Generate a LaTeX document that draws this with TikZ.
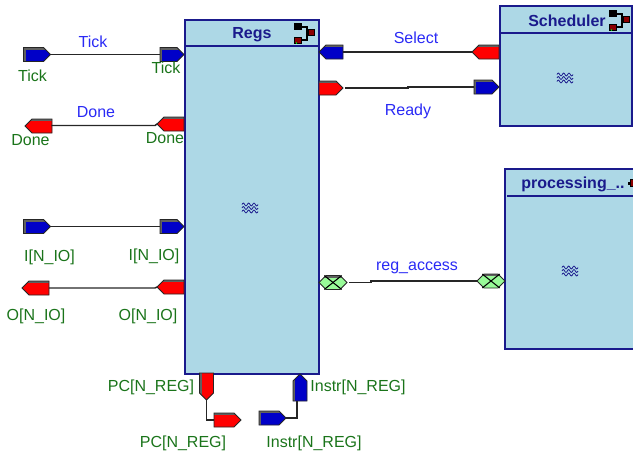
\documentclass[tikz,border=0pt]{standalone}
\usepackage{fontspec}
\setmainfont{Liberation Sans}
\usetikzlibrary{shapes.symbols}
\definecolor{boxfill}{HTML}{ADD8E6}
\definecolor{boxline}{HTML}{1A1A8C}
\definecolor{portblue}{HTML}{0000C8}
\definecolor{portred}{HTML}{FF0000}
\definecolor{portgreen}{HTML}{98FB98}
\definecolor{labgreen}{HTML}{1A741A}
\definecolor{labblue}{HTML}{2A2AF5}
\definecolor{icored}{HTML}{8B0000}
\definecolor{shadegray}{HTML}{606060}
\tikzset{
  basefont/.style={font=\fontsize{12}{14}\selectfont},
  portlabel/.style={basefont,text=labgreen,inner sep=0pt},
  netlabel/.style={basefont,text=labblue,inner sep=0pt},
  titlelabel/.style={basefont,font=\fontsize{12}{14}\selectfont\bfseries,text=boxline,inner sep=0pt},
  block/.style={draw=boxline,fill=boxfill,line width=1.1pt},
  divider/.style={draw=boxline,line width=1.1pt},
  wire/.style={draw=black!85,line width=1.1pt},
  portbase/.style={shape=signal,draw=black!85,line width=.6pt,inner sep=0pt,outer sep=0pt,signal pointer angle=90,signal from=nowhere},
  hport/.style={portbase,minimum width=27*.75pt,minimum height=14*.75pt},
  vport/.style={portbase,minimum width=14*.75pt,minimum height=20*.75pt},
  topshade/.style={path picture={\fill[shadegray] (path picture bounding box.north west) rectangle ([yshift=-1.6pt]path picture bounding box.north east);}},
  topleftshade/.style={path picture={\fill[shadegray] (path picture bounding box.north west) rectangle ([yshift=-1.6pt]path picture bounding box.north east);
     \fill[shadegray] (path picture bounding box.north west) rectangle ([xshift=1.8pt]path picture bounding box.south west);}},
  leftshade/.style={path picture={\fill[shadegray] (path picture bounding box.north west) rectangle ([xshift=1.8pt]path picture bounding box.south west);}},
  bluer/.style={hport,fill=portblue,signal to=east,topleftshade},
  bluel/.style={hport,fill=portblue,signal to=west,topshade},
  redr/.style={hport,fill=portred,signal to=east,topshade},
  redl/.style={hport,fill=portred,signal to=west,topshade},
  redd/.style={vport,fill=portred,signal to=south,leftshade},
  blueu/.style={vport,fill=portblue,signal to=north,leftshade},
  xport/.style={hport,minimum width=28*.75pt,fill=portgreen,signal to=east and west,topshade},
  xmark/.style={draw=black,line width=.8pt},
  wave/.pic={
    \foreach \d in {-3.5,0,3.5}{
      \draw[boxline,line width=.6pt,x=.75pt,y=-.75pt,smooth,samples=37,domain=-8:8]
        plot (\x,{\d+1.4*sin(\x*67.5)});
    }
  },
  hier/.pic={
    \begin{scope}[x=.75pt,y=-.75pt]
      \draw[black,line width=1.2pt] (-5,-6) -- (2,-6) -- (2,7) -- (-5,7);
      \draw[black,line width=1.2pt] (2,0) -- (4,0);
      \fill[black] (-11,-10) rectangle (-3,-3);
      \fill[black] (-11,4) rectangle (-3,11);
      \fill[icored] (-10,5) rectangle (-4,10);
      \fill[green!80!black] (-9,9) rectangle (-8,11);
      \fill[black] (3,-4) rectangle (10,3);
      \fill[icored] (4,-3) rectangle (9,2);
    \end{scope}
  }
}
\begin{document}
\begin{tikzpicture}[x=.75pt,y=-.75pt]
\useasboundingbox (0,0) rectangle (633,451);
% blocks
\path[block] (185,20) rectangle (319,374);
\coordinate (regsdl) at (185,46);
\coordinate (regsdr) at (319,46);
\draw[divider] (regsdl) -- (regsdr);
\path[block] (500,6) rectangle (632,126);
\coordinate (schdl) at (500,33);
\coordinate (schdr) at (632,33);
\draw[divider] (schdl) -- (schdr);
\fill[boxfill] (505,169) rectangle (633,349);
\draw[block,fill=none] (633,169) -- (505,169) -- (505,349) -- (633,349);
\coordinate (procdl) at (507,196);
\coordinate (procdr) at (633,196);
\draw[divider] (procdl) -- (procdr);
% titles
\node[titlelabel] (tregs) at (252,35) {Regs};
\node[titlelabel] (tsched) at (567,21) {Scheduler};
\node[titlelabel] (tproc) at (573,184) {processing\_..};
% icons
\pic at (305,33) {hier};
\pic at (620,20) {hier};
\fill[black] (628,181.5) rectangle (630,184.5);
\fill[black] (630,179) rectangle (633,187);
\fill[icored] (631,180) rectangle (633,186);
\pic at (250,208) {wave};
\pic at (565,78) {wave};
\pic at (570,271) {wave};
% ports
\node[bluer,anchor=west] (tickA) at (23.5,54.5) {};
\node[bluer,anchor=east,minimum width=24*.75pt] (tickB) at (184,54.5) {};
\node[redl,anchor=west] (doneA) at (25,126) {};
\node[redl,anchor=east] (doneB) at (184,124) {};
\node[bluer,anchor=west] (iA) at (23.5,226.5) {};
\node[bluer,anchor=east,minimum width=24*.75pt] (iB) at (184,226.5) {};
\node[redl,anchor=west] (oA) at (22,288) {};
\node[redl,anchor=east] (oB) at (184,287) {};
\node[bluel,anchor=west,minimum width=24*.75pt] (selA) at (319,52) {};
\node[redl,anchor=east] (selB) at (499,52) {};
\node[redr,anchor=west,minimum width=24*.75pt] (rdyA) at (319,88) {};
\node[bluer,anchor=east,minimum width=25*.75pt] (rdyB) at (499,87) {};
\node[xport,anchor=west] (regA) at (319,282.5) {};
\node[xport,anchor=east] (regB) at (505,281) {};
\node[redd,anchor=south] (pcA) at (206.5,400) {};
\node[redr,anchor=west] (pcB) at (214,420) {};
\node[blueu,anchor=north] (inA) at (300,374) {};
\node[bluer,anchor=west] (inB) at (259,418) {};
% X marks in the bidirectional ports
\draw[xmark] ([xshift=-6.5pt,yshift=5.2pt]regA.center) -- ([xshift=6.5pt,yshift=-5.2pt]regA.center);
\draw[xmark] ([xshift=-6.5pt,yshift=-5.2pt]regA.center) -- ([xshift=6.5pt,yshift=5.2pt]regA.center);
\draw[xmark] ([xshift=-6.5pt,yshift=5.2pt]regB.center) -- ([xshift=6.5pt,yshift=-5.2pt]regB.center);
\draw[xmark] ([xshift=-6.5pt,yshift=-5.2pt]regB.center) -- ([xshift=6.5pt,yshift=5.2pt]regB.center);
% wires
\draw[wire] (tickA.east) -- (tickB.west);
\coordinate (doneM) at (155,125.5);
\draw[wire] (doneA.east) -- (doneA.east |- doneM) -- (doneM) -- (doneB.west);
\draw[wire] (iA.east) -- (iB.west);
\coordinate (oM) at (155,288);
\draw[wire] (oA.east) -- (oM) -- (oB.west);
\draw[wire] (selA.east) -- (selB.west);
\coordinate (rdyM1) at (408,88);
\coordinate (rdyM2) at (408,87);
\draw[wire,shorten <=1.5pt] (rdyA.east) -- (rdyM1) -- (rdyM2) -- (rdyB.west);
\coordinate (regM1) at (371,282.5);
\coordinate (regM2) at (371,281);
\draw[wire,shorten <=1.5pt] (regA.east) -- (regM1) -- (regM2) -- (regB.west);
\coordinate (pcM) at (206.5,420);
\draw[wire,line width=.9pt] (pcA.south) -- (pcM) -- (pcB.west);
\coordinate (inM) at (297,418);
\draw[wire,line width=.9pt] (inB.east) -- (inM) -- (inM |- inA.south);
% net labels
\node[netlabel] (lTick) at (93,42) {Tick};
\node[netlabel] (lDone) at (96,112) {Done};
\node[netlabel] (lSel) at (416,38) {Select};
\node[netlabel] (lRdy) at (408,111) {Ready};
\node[netlabel] (lReg) at (417,268) {reg\_access};
% port labels
\node[portlabel] (pTickA) at (32.5,75.5) {Tick};
\node[portlabel] (pTickB) at (166,67.5) {Tick};
\node[portlabel] (pDoneA) at (30.5,140) {Done};
\node[portlabel] (pDoneB) at (165,138) {Done};
\node[portlabel] (pIA) at (49.5,257) {I[N\_IO]};
\node[portlabel] (pIB) at (154,256) {I[N\_IO]};
\node[portlabel] (pOA) at (36,316) {O[N\_IO]};
\node[portlabel] (pOB) at (148,316) {O[N\_IO]};
\node[portlabel] (pPCA) at (151,387) {PC[N\_REG]};
\node[portlabel] (pInA) at (358,387) {Instr[N\_REG]};
\node[portlabel] (pPCB) at (183,443) {PC[N\_REG]};
\node[portlabel] (pInB) at (314,443) {Instr[N\_REG]};
\end{tikzpicture}
\end{document}
